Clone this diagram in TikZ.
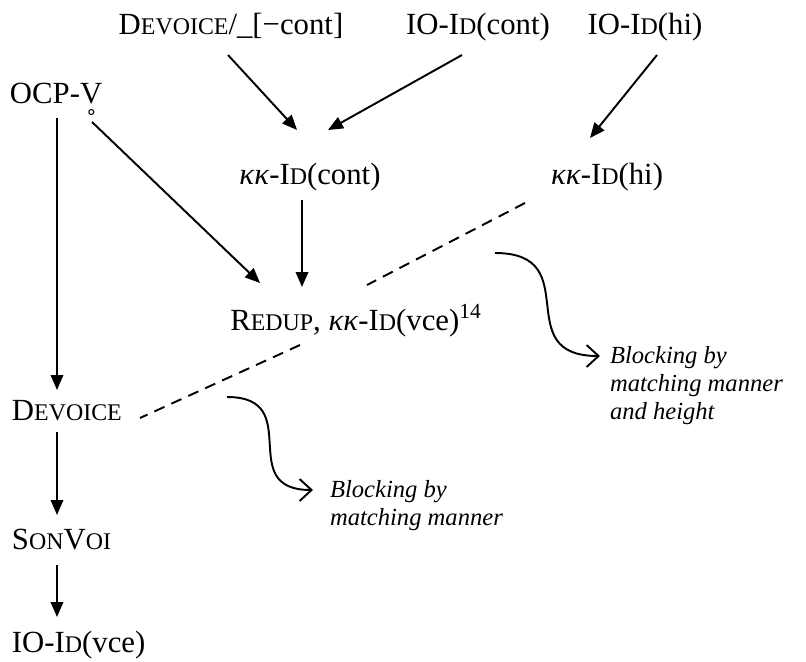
\documentclass[tikz,border=0pt]{standalone}
\usepackage{fontspec}
\setmainfont{Liberation Serif}
\usetikzlibrary{arrows.meta}
% versalitas a mano
\newcommand{\fsc}[2]{#1{\fontsize{13.6pt}{16pt}\selectfont #2}}
\begin{document}
\begin{tikzpicture}[
every node/.style={font=\fontsize{17.5pt}{21pt}\selectfont, inner sep=0pt, outer sep=0pt},
cons/.style={anchor=base},
consleft/.style={anchor=base west},
note/.style={anchor=north west, align=left, font=\fontsize{14pt}{16pt}\selectfont\itshape},
dom/.style={-{Triangle[length=0.3cm,width=0.25cm]}, line width=1.1pt},
block/.style={line width=1.1pt, dash pattern=on 6.3pt off 4.3pt},
curl/.style={-{Straight Barb[length=0.24cm,width=0.44cm]}, line width=1.1pt}
]
\useasboundingbox (0,0) rectangle (16.12,-13.22);
% Fila superior
\node[cons] (devcont) at (4.62,-0.68) {\fsc{D}{EVOICE}/\_[−cont]};
\node[cons] (iocont) at (9.56,-0.68) {IO-\fsc{I}{D}(cont)};
\node[cons] (iohi) at (12.9,-0.68) {IO-\fsc{I}{D}(hi)};
% Columna izquierda
\node[consleft] (ocp) at (0.2,-2.06) {OCP-V};
\draw[line width=0.6pt] ([xshift=-0.22cm,yshift=-0.18cm]ocp.base east) circle (0.05);
\node[consleft] (devoice) at (0.24,-8.4) {\fsc{D}{EVOICE}};
\node[consleft] (sonvoi) at (0.24,-10.98) {\fsc{S}{ON}\fsc{V}{OI}};
\node[consleft] (iovce) at (0.24,-13.04) {IO-\fsc{I}{D}(vce)};
% Centro
\node[cons] (kcont) at (6.2,-3.68) {\textit{κκ}-\fsc{I}{D}(cont)};
\node[cons] (khi) at (12.14,-3.68) {\textit{κκ}-\fsc{I}{D}(hi)};
\node[cons] (redup) at (7.12,-6.6) {\fsc{R}{EDUP}, \textit{κκ}-\fsc{I}{D}(vce)\textsuperscript{14}};
% Notas
\node[note] (blk1) at (12.2,-6.92) {Blocking by\\matching manner\\and height};
\node[note] (blk2) at (6.6,-9.6) {Blocking by\\matching manner};
\coordinate (c1) at (9.9,-5.06);
\coordinate (c2) at (4.54,-7.94);
% Aristas
\draw[dom] ([xshift=-0.06cm,yshift=-0.42cm]devcont.base) -- ([xshift=-0.26cm,yshift=1.08cm]kcont.base);
\draw[dom] ([xshift=-0.32cm,yshift=-0.42cm]iocont.base) -- ([xshift=0.36cm,yshift=1.08cm]kcont.base);
\draw[dom] ([xshift=0.24cm,yshift=-0.42cm]iohi.base) -- ([xshift=-0.34cm,yshift=0.92cm]khi.base);
\draw[dom] ([xshift=0.94cm,yshift=-0.3cm]ocp.base west) -- ([xshift=0.9cm,yshift=0.6cm]devoice.base west);
\draw[dom] ([xshift=1.64cm,yshift=-0.38cm]ocp.base west) -- ([xshift=-1.92cm,yshift=0.94cm]redup.base);
\draw[dom] ([xshift=-0.16cm,yshift=-0.32cm]kcont.base) -- ([xshift=-1.08cm,yshift=0.86cm]redup.base);
\draw[dom] ([xshift=0.9cm,yshift=-0.24cm]devoice.base west) -- ([xshift=0.9cm,yshift=0.68cm]sonvoi.base west);
\draw[dom] ([xshift=0.9cm,yshift=-0.32cm]sonvoi.base west) -- ([xshift=0.9cm,yshift=0.7cm]iovce.base west);
\draw[block] ([xshift=-1.64cm,yshift=-0.38cm]khi.base) -- ([xshift=0.22cm,yshift=0.9cm]redup.base);
\draw[block] ([xshift=-1.12cm,yshift=-0.3cm]redup.base) -- ([xshift=2.56cm,yshift=0.04cm]devoice.base west);
\draw[curl] (c1) to[out=0,in=180,looseness=1.6] ([xshift=-0.2cm,yshift=-0.2cm]blk1.north west);
\draw[curl] (c2) to[out=0,in=180,looseness=1.6] ([xshift=-0.34cm,yshift=-0.2cm]blk2.north west);
\end{tikzpicture}
\end{document}
